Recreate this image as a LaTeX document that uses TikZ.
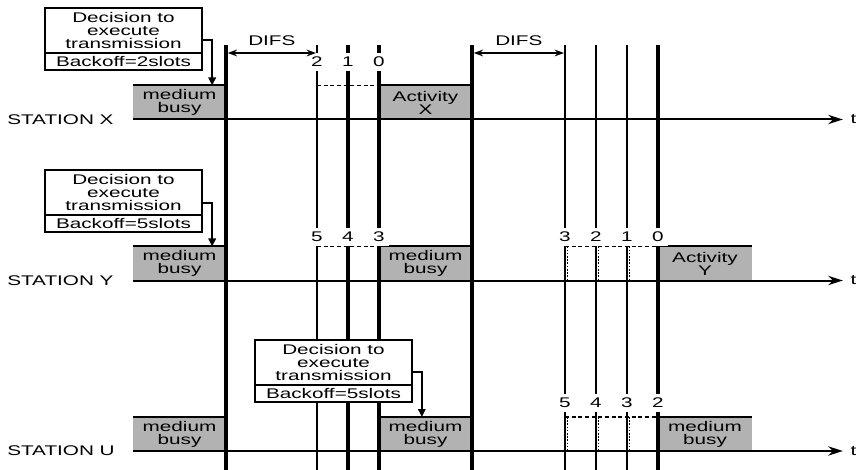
\documentclass[tikz,border=0pt]{standalone}
\usepackage{fontspec}
\setmainfont{Liberation Sans}[FakeStretch=1.48]
\usetikzlibrary{arrows.meta, positioning, calc}

\begin{document}
\begin{tikzpicture}[
    x=0.75pt, y=-0.75pt,
    txt/.style    ={font=\fontsize{10.5}{9.75}\selectfont, align=center, inner sep=0pt},
    busy/.style   ={txt, fill=black!30, minimum width=70pt, minimum height=25.5pt, outer sep=0pt},
    topln/.style  ={line width=1.5pt},
    vthick/.style ={line width=2.6pt},
    vthin/.style  ={line width=1.5pt},
    dashln/.style ={line width=1.2pt, dash pattern=on 3pt off 2pt},
    dotln/.style  ={line width=0.9pt, dash pattern=on 1.2pt off 1.2pt},
    num/.style    ={txt, fill=white, inner sep=3pt},
    ax/.style     ={line width=1.5pt, -{Stealth[length=11pt, width=7pt]}},
    difs/.style   ={line width=1.2pt, {Stealth[length=7pt, width=5pt]}-{Stealth[length=7pt, width=5pt]}},
    dectop/.style ={txt, draw, line width=1.8pt, fill=white, outer sep=0pt,
                    minimum width=117.75pt, minimum height=33.75pt},
    decbot/.style ={dectop, minimum height=12.75pt},
    decarr/.style ={line width=1.5pt, -{Triangle[length=6pt, width=5.5pt]}}
  ]
  \useasboundingbox (0,0) rectangle (856,470);

  %% ---- gray boxes --------------------------------------------------
  \node[busy] (busyX)  at (179.5,102.5) {medium\\busy};
  \node[busy] (actX)   at (425.5,102.5) {Activity\\X};
  \node[busy] (busyY)  at (179.5,263.5) {medium\\busy};
  \node[busy] (busyY2) at (425.5,263.5) {medium\\busy};
  \node[busy] (actY)   at (705,263.5)   {Activity\\Y};
  \node[busy] (busyU)  at (179.5,434)   {medium\\busy};
  \node[busy] (busyU2) at (425.5,434)   {medium\\busy};
  \node[busy] (busyU3) at (705,434)     {medium\\busy};
  \foreach \b in {busyX, actX, busyY, busyY2, actY, busyU, busyU2, busyU3}
    \draw[topln] (\b.north west) -- (\b.north east);

  %% ---- slot lines --------------------------------------------------
  \foreach \x/\s [count=\i] in {226/vthick, 317/vthin, 348/vthick, 379/vthick, 472/vthick,
                                565/vthin, 596/vthin, 627/vthin, 658/vthick} {
    \coordinate (T\i) at (\x,45);
    \draw[\s] (T\i) -- (\x,470);
  }

  %% ---- backoff counters ----------------------------------------------
  \draw[dashln] (T2 |- actX.north) -- (actX.north west);
  \draw[dashln] (T2 |- busyY2.north) -- (busyY2.north west);
  \draw[dashln] (T6 |- actY.north) -- (actY.north west);
  \draw[dashln] (T6 |- busyU3.north) -- (busyU3.north west);
  \foreach \t in {6,7,8} {
    \draw[dotln] ($(T\t |- actY.north)+(2.8,0)$) -- ($(T\t |- actY.south)+(2.8,0)$);
    \draw[dotln] ($(T\t |- busyU3.north)+(2.8,0)$) -- ($(T\t |- busyU3.south)+(2.8,0)$);
  }
  \foreach \t/\n in {2/2, 3/1, 4/0}
    \node[num] (nX\t) at ($(T\t)+(0,17)$) {\n};
  \foreach \t/\n in {2/5, 3/4, 4/3, 6/3, 7/2, 8/1, 9/0}
    \node[num] (nY\t) at ($(T\t)+(0,192)$) {\n};
  \foreach \t/\n in {6/5, 7/4, 8/3, 9/2}
    \node[num] (nU\t) at ($(T\t)+(0,358)$) {\n};

  %% ---- DIFS ----------------------------------------------------------
  \draw[difs] ($(T1)+(1.7,8)$) -- ($(T2)+(-1,8)$) node[txt, midway, above=5pt] (difsA) {DIFS};
  \draw[difs] ($(T5)+(1.7,8)$) -- ($(T6)+(-1,8)$) node[txt, midway, above=5pt] (difsB) {DIFS};

  %% ---- time axes -----------------------------------------------------
  \draw[ax] (busyX.south west) -- ++(710,0) node[txt, right=5pt] (tX) {t};
  \draw[ax] (busyY.south west) -- ++(710,0) node[txt, right=5pt] (tY) {t};
  \draw[ax] (busyU.south west) -- ++(710,0) node[txt, right=5pt] (tU) {t};
  \node[txt, anchor=west] (stX) at (busyX.south west -| 7,0) {STATION X};
  \node[txt, anchor=west] (stY) at (busyY.south west -| 7,0) {STATION Y};
  \node[txt, anchor=west] (stU) at (busyU.south west -| 7,0) {STATION U};

  %% ---- decisions -----------------------------------------------------
  \node[dectop] (decX) at (123.5,30.5) {Decision to\\execute\\transmission};
  \node[decbot, below=0pt of decX] (boX) {Backoff=2slots};
  \node[dectop] (decY) at (123.5,192.5) {Decision to\\execute\\transmission};
  \node[decbot, below=0pt of decY] (boY) {Backoff=5slots};
  \node[dectop] (decU) at (333.5,362.5) {Decision to\\execute\\transmission};
  \node[decbot, below=0pt of decU] (boU) {Backoff=5slots};

  \draw[decarr] ([yshift=9.75pt]decX.south east) -| ([xshift=-10.5pt]busyX.north east);
  \draw[decarr] ([yshift=9pt]decY.south east) -| ([xshift=-10.5pt]busyY.north east);
  \draw[decarr] ([yshift=9.75pt]decU.south east) -| ([xshift=32.25pt]busyU2.north west);

\end{tikzpicture}
\end{document}
